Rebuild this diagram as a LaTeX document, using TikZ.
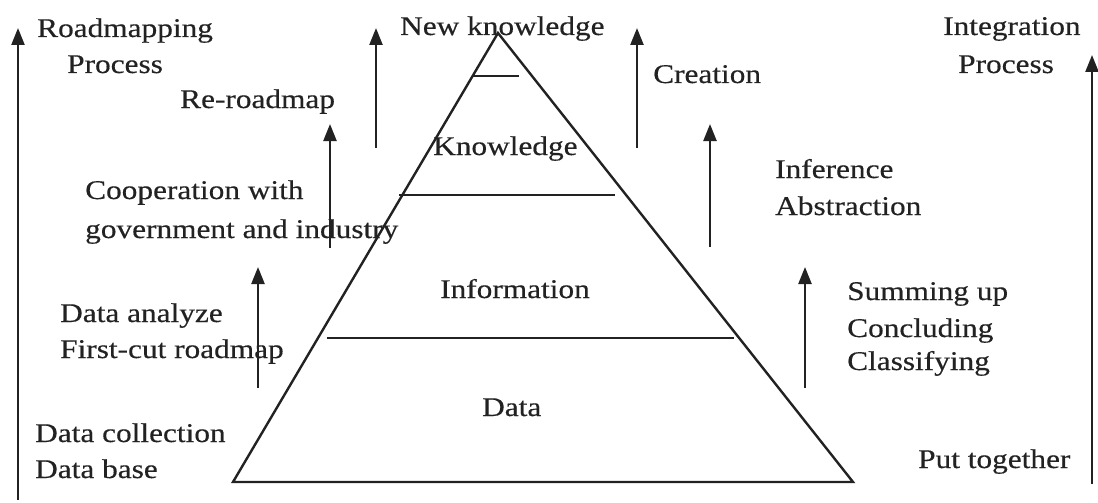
\documentclass[tikz,border=0pt]{standalone}
\usepackage{fontspec}
\setmainfont{Liberation Serif}[FakeStretch=1.16,FakeBold=0.4]
\usetikzlibrary{arrows.meta}
\definecolor{ink}{HTML}{222222}
\tikzset{
  lbl/.style={anchor=base west,inner sep=0pt,text=ink,font=\fontsize{27}{31}\selectfont},
  edge/.style={draw=ink,line width=2.4pt},
  uparrow/.style={draw=ink,line width=2.4pt,-{Triangle[width=13pt,length=17pt]}}
}
\begin{document}
\begin{tikzpicture}[x=1pt,y=-1pt]
\useasboundingbox (0,0) rectangle (1098,503);
% pyramid
\coordinate (apex) at (498,33);
\coordinate (bl) at (233,482);
\coordinate (br) at (853,482);
\draw[edge,line join=miter] (apex) -- (bl) -- (br) -- cycle;
\coordinate (l0a) at (472,76); \coordinate (l0b) at (519,76);
\coordinate (l1a) at (399,195); \coordinate (l1b) at (615,195);
\coordinate (l2a) at (327,338); \coordinate (l2b) at (734,338);
\draw[edge] (l0a) -- (l0b);
\draw[edge] (l1a) -- (l1b);
\draw[edge] (l2a) -- (l2b);
% arrows
\coordinate (a1s) at (18,500); \coordinate (a1e) at (18,28);
\coordinate (a2s) at (1092,484); \coordinate (a2e) at (1092,55);
\coordinate (a3s) at (376,148); \coordinate (a3e) at (376,28);
\coordinate (a4s) at (330,248); \coordinate (a4e) at (330,124);
\coordinate (a5s) at (258,388); \coordinate (a5e) at (258,267);
\coordinate (a6s) at (637,148); \coordinate (a6e) at (637,28);
\coordinate (a7s) at (710,247); \coordinate (a7e) at (710,124);
\coordinate (a8s) at (805,388); \coordinate (a8e) at (805,267);
\foreach \i in {1,...,8} {\draw[uparrow] (a\i s) -- (a\i e);}
% labels
\node[lbl] (t1) at (37,37) {Roadmapping};
\node[lbl] (t2) at (67,73) {Process};
\node[lbl] (t3) at (180,108) {Re-roadmap};
\node[lbl] (t4) at (400,35) {New knowledge};
\node[lbl] (t5) at (653,83) {Creation};
\node[lbl] (t6) at (433,155) {Knowledge};
\node[lbl] (t7) at (943,35) {Integration};
\node[lbl] (t8) at (958,73) {Process};
\node[lbl] (t9) at (775,178) {Inference};
\node[lbl] (t10) at (775,215) {Abstraction};
\node[lbl] (t11) at (85,199) {Cooperation with};
\node[lbl] (t12) at (85,238) {government and industry};
\node[lbl] (t13) at (440,298) {Information};
\node[lbl] (t14) at (60,322) {Data analyze};
\node[lbl] (t15) at (60,358) {First-cut roadmap};
\node[lbl] (t16) at (35,442) {Data collection};
\node[lbl] (t17) at (35,478) {Data base};
\node[lbl] (t18) at (482,416) {Data};
\node[lbl] (t19) at (847,300) {Summing up};
\node[lbl] (t20) at (847,337) {Concluding};
\node[lbl] (t21) at (847,370) {Classifying};
\node[lbl] (t22) at (918,468) {Put together};
\end{tikzpicture}
\end{document}
